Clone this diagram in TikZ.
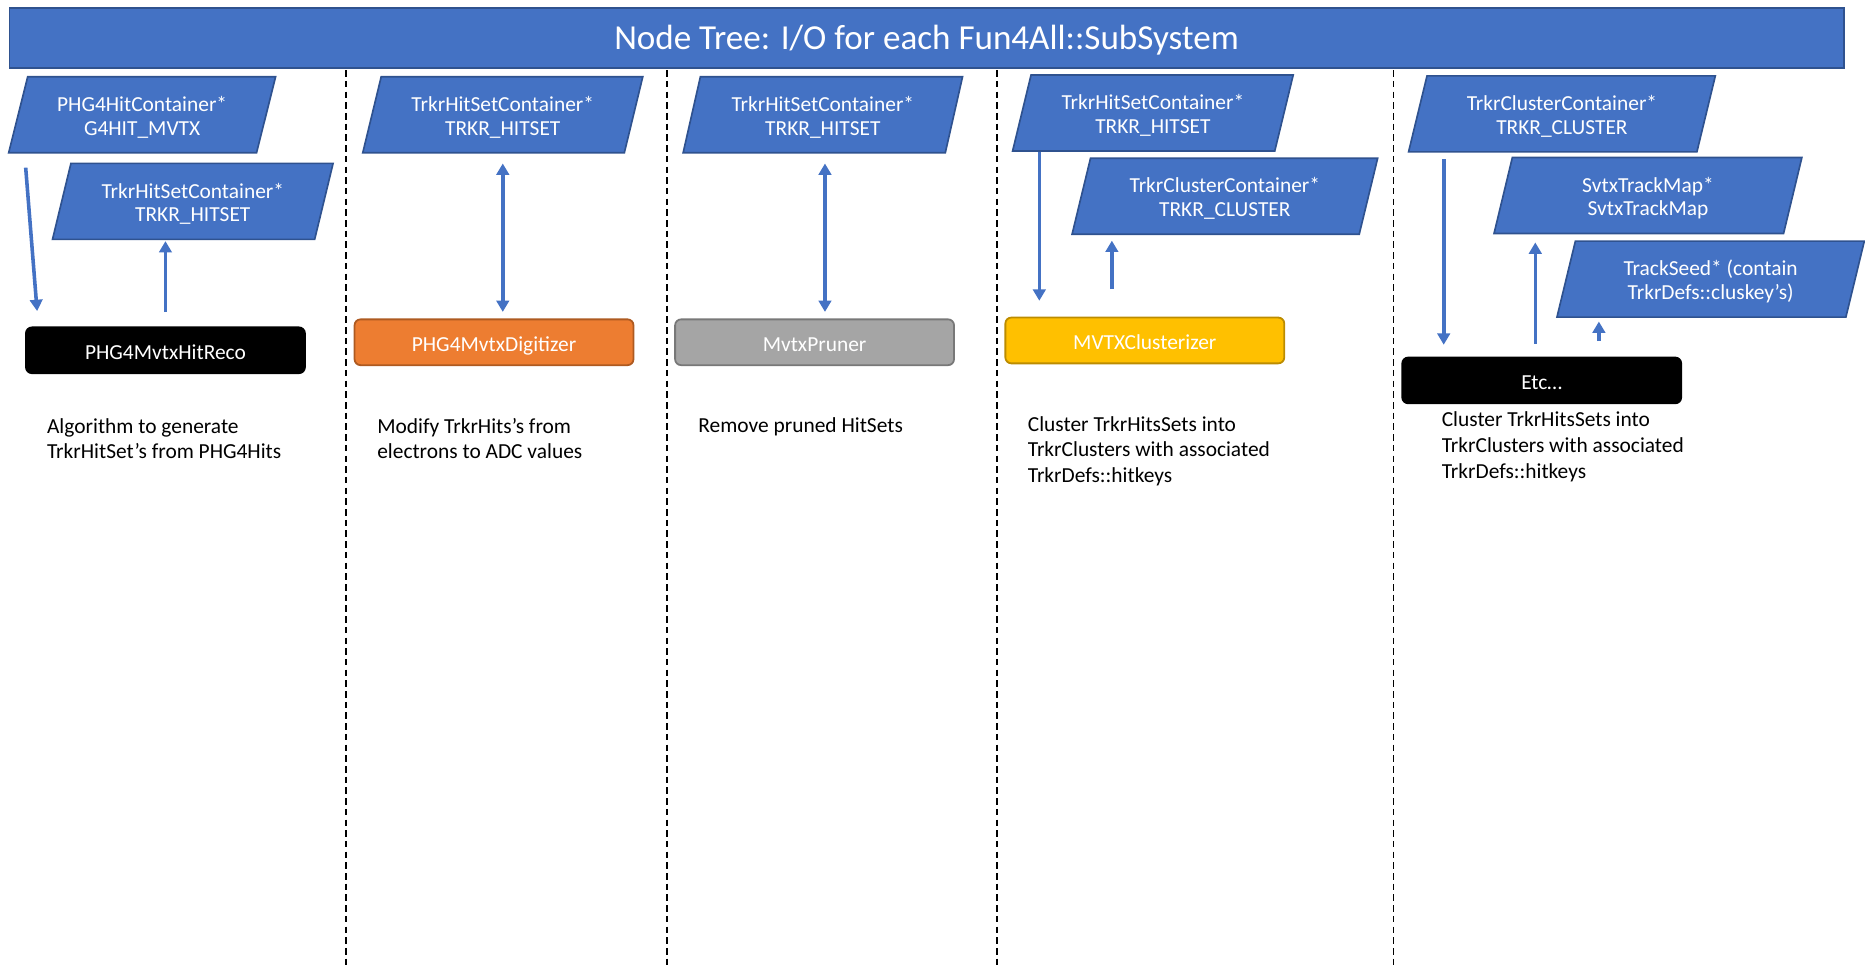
\documentclass[tikz,border=0pt]{standalone}
\usepackage{fontspec}
\setmainfont{Carlito}
\usetikzlibrary{arrows.meta,calc,backgrounds}
\definecolor{mblue}{HTML}{4472C4}
\definecolor{dblue}{HTML}{2F528F}
\definecolor{morange}{HTML}{ED7D31}
\definecolor{dorange}{HTML}{AE5A21}
\definecolor{mgray}{HTML}{A5A5A5}
\definecolor{dgray}{HTML}{787878}
\definecolor{myellow}{HTML}{FFC000}
\definecolor{dyellow}{HTML}{BC8C00}
\tikzset{
 paratext/.style={minimum width=#1, minimum height=63.5, inner sep=0pt, text=white, align=center, font=\fontsize{18}{19.8}\selectfont},
 algbox/.style={rounded corners=5, minimum width=234.5, minimum height=38.5, inner sep=0pt, line width=1.5, text=white, text height=16pt, text depth=0pt, font=\fontsize{18}{20.5}\selectfont},
 desc/.style={inner sep=0pt, align=left, anchor=north west, font=\fontsize{18}{21}\selectfont},
 arr/.style={draw=mblue, line width=3, -{Triangle[width=10.5pt,length=9.5pt]}},
 darr/.style={draw=mblue, line width=3, {Triangle[width=10.5pt,length=9.5pt]}-{Triangle[width=10.5pt,length=9.5pt]}},
 sepline/.style={draw=black, line width=1.4, dash pattern=on 5.5pt off 3.5pt},
 paraframe/.style={fill=mblue, draw=dblue, line width=1.4},
}
\newcommand\drawpara[2]{%
 \path[paraframe] ([xshift=#2]#1.north west) -- ([xshift=#2]#1.north east) -- ([xshift=-#2]#1.south east) -- ([xshift=-#2]#1.south west) -- cycle;}
\newcommand\twol[2]{\rule{0pt}{19.3pt}#1\\#2\rule[-5pt]{0pt}{5pt}}
\begin{document}
\begin{tikzpicture}[x=1pt,y=-1pt]
\useasboundingbox (0,0) rectangle (1568,813);
% title
\node[fill=mblue, draw=dblue, line width=1.5, minimum width=1542, minimum height=50, inner sep=0pt, text=white, text height=19pt, text depth=0pt, font=\fontsize{29.5}{34}\selectfont] (title) at (779,32) {Node Tree: I/O for each Fun4All::SubSystem};
% separators
\draw[sepline] (291,59) -- (291,813);
\draw[sepline] (561,59) -- (561,813);
\draw[sepline] (838,59) -- (838,813);
\draw[sepline] (1171.5,59) -- (1171.5,813);
% containers
\node[paratext=208] (P1) at (119.5,96.5) {\twol{PHG4HitContainer*}{G4HIT\_MVTX}};
\node[paratext=220] (P2) at (162.1,169.3) {\twol{TrkrHitSetContainer*}{TRKR\_HITSET}};
\node[paratext=219.5] (P3) at (422.7,96.5) {\twol{TrkrHitSetContainer*}{TRKR\_HITSET}};
\node[paratext=220] (P4) at (691.8,96.5) {\twol{TrkrHitSetContainer*}{TRKR\_HITSET}};
\node[paratext=220] (P5) at (969.3,95) {\twol{TrkrHitSetContainer*}{TRKR\_HITSET}};
\node[paratext=241] (P6) at (1029.8,165) {\twol{TrkrClusterContainer*}{TRKR\_CLUSTER}};
\node[paratext=242] (P7) at (1313.2,95.75) {\twol{TrkrClusterContainer*}{TRKR\_CLUSTER}};
\node[paratext=243] (P8) at (1385.5,164.4) {\twol{SvtxTrackMap*}{SvtxTrackMap}};
\node[paratext=242.5] (P9) at (1438.2,234.7) {\twol{TrackSeed* (contain}{TrkrDefs::cluskey’s)}};
\begin{scope}[on background layer]
\drawpara{P1}{8}
\drawpara{P2}{7.75}
\drawpara{P3}{7.75}
\drawpara{P4}{7.25}
\drawpara{P5}{7.75}
\drawpara{P6}{7.75}
\drawpara{P7}{7.75}
\drawpara{P8}{7.7}
\drawpara{P9}{7.75}
\end{scope}
% algorithm boxes
\node[algbox, fill=black, draw=black] (B1) at (139.1,294.5) {PHG4MvtxHitReco};
\node[algbox, fill=morange, draw=dorange] (B2) at (415.35,287.75) {PHG4MvtxDigitizer};
\node[algbox, fill=mgray, draw=dgray] (B3) at (684.85,287.75) {MvtxPruner};
\node[algbox, fill=myellow, draw=dyellow] (B4) at (962.5,286.25) {MVTXClusterizer};
\node[algbox, fill=black, draw=black] (B5) at (1296.2,319.85) {Etc…};
% arrows
\draw[arr] ($(P1.south west)+(6.3,12.5)$) -- ($(B1.north west)+(10.1,-13)$);
\draw[arr, shorten <=12, shorten >=1.5] (B1.north) -- (B1.north |- P2.south);
\draw[darr, shorten <=9, shorten >=5.5] (P3.south) -- (P3.south |- B2.north);
\draw[darr, shorten <=9, shorten >=5.5] ($(P4.south)+(1.8,0)$) -- ($(P4.south |- B3.north)+(1.8,0)$);
\draw[arr, shorten >=13.4] ($(P5.south west)+(14.7,0.5)$) -- ($(P5.south west |- B4.north)+(14.7,0)$);
\draw[arr, shorten <=23.2, shorten >=5.4] ($(P6.south west |- B4.north)+(25.7,0)$) -- ($(P6.south west)+(25.7,0)$);
\draw[arr, shorten <=6, shorten >=10] ($(P7.south west)+(21.8,0)$) -- ($(P7.south west |- B5.north)+(21.8,0)$);
\draw[arr, shorten <=11, shorten >=7.5] ($(P8.south west |- B5.north)+(27,0)$) -- ($(P8.south west)+(27,0)$);
\draw[arr, shorten <=13, shorten >=3.7] ($(P9.south west |- B5.north)+(27.5,0)$) -- ($(P9.south west)+(27.5,0)$);
% descriptions
\node[desc] (D1) at (39.4,351.7) {Algorithm to generate\\TrkrHitSet’s from PHG4Hits};
\node[desc] (D2) at (317,351.7) {Modify TrkrHits’s from\\electrons to ADC values};
\node[desc] (D3) at (587,351.2) {Remove pruned HitSets};
\node[desc, font=\fontsize{18}{21.5}\selectfont] (D4) at (864,349.8) {Cluster TrkrHitsSets into\\TrkrClusters with associated\\TrkrDefs::hitkeys};
\node[desc, font=\fontsize{18}{21.5}\selectfont] (D5) at (1212,346.2) {Cluster TrkrHitsSets into\\TrkrClusters with associated\\TrkrDefs::hitkeys};
\end{tikzpicture}
\end{document}
